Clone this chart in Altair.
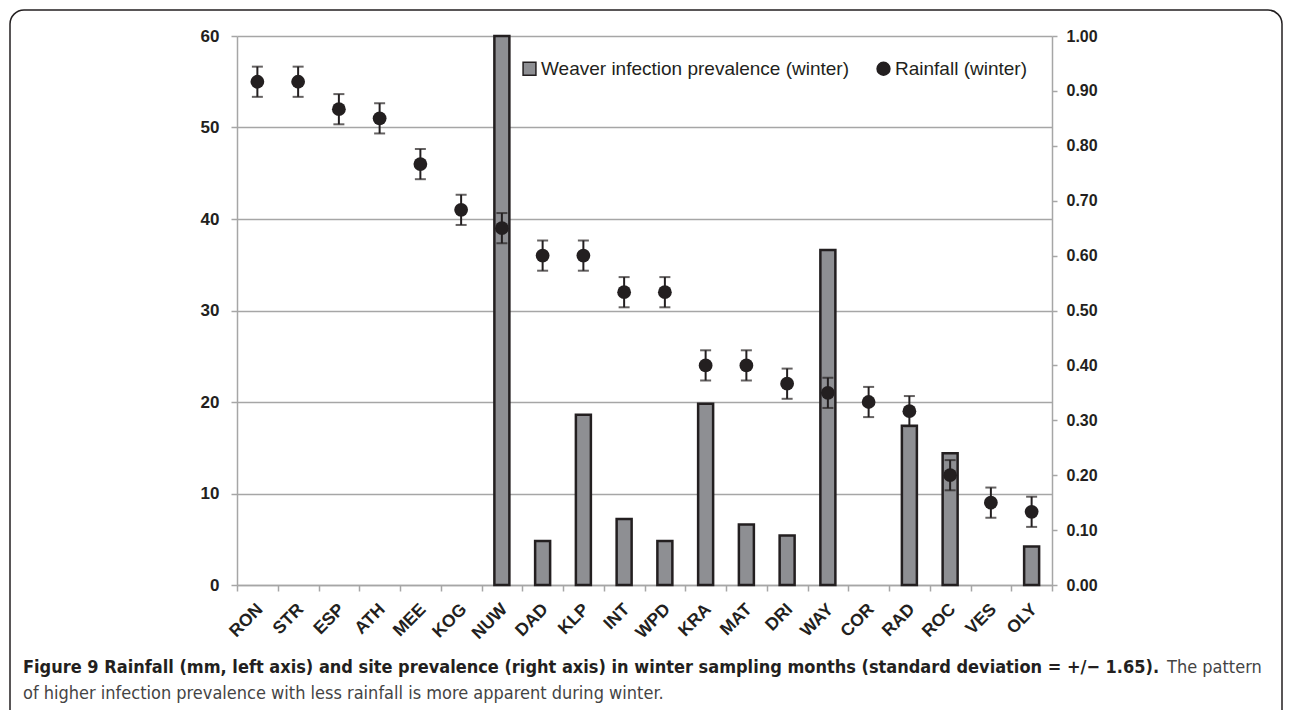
import altair as alt
import pandas as pd

sites = ["RON", "STR", "ESP", "ATH", "MEE", "KOG", "NUW", "DAD", "KLP", "INT",
         "WPD", "KRA", "MAT", "DRI", "WAY", "COR", "RAD", "ROC", "VES", "OLY"]
rainfall = [55, 55, 52, 51, 46, 41, 39, 36, 36, 32, 32, 24, 24, 22, 21, 20, 19, 12, 9, 8]
prevalence = [0, 0, 0, 0, 0, 0, 1.00, 0.08, 0.31, 0.12, 0.08, 0.33, 0.11, 0.09,
              0.61, 0, 0.29, 0.24, 0, 0.07]
rain_sd = 1.65
series = ["Weaver infection prevalence (winter)", "Rainfall (winter)"]
left_ticks = [0, 10, 20, 30, 40, 50, 60]
right_ticks = [0.0, 0.1, 0.2, 0.3, 0.4, 0.5, 0.6, 0.7, 0.8, 0.9, 1.0]
caption_bold = ("Figure 9 Rainfall (mm, left axis) and site prevalence (right axis) in winter "
                "sampling months (standard deviation = +/\u2212 1.65).")
caption_rest1 = "The pattern"
caption_line2 = "of higher infection prevalence with less rainfall is more apparent during winter."

INK = "#231f20"
GRID = "#a6a6a6"
BAR = "#8e8f93"
FONT = "Liberation Sans"
CAPFONT = '"Liberation Sans Narrow", "DejaVu Sans Condensed", "Liberation Sans"'

df = pd.DataFrame({"site": sites, "rainfall": rainfall, "prevalence": prevalence})
df["lo"] = df["rainfall"] - rain_sd
df["hi"] = df["rainfall"] + rain_sd

W, H = 815, 549

x_enc = alt.X(
    "site:N", sort=sites,
    scale=alt.Scale(paddingInner=0, paddingOuter=0),
    axis=alt.Axis(title=None, labelAngle=-45, tickBand="extent", labelFont=FONT,
                  labelFontWeight="bold", labelFontSize=17.5, labelColor=INK,
                  tickColor=GRID, tickSize=6, tickWidth=1.5, domainColor=GRID,
                  domainWidth=1.5, labelPadding=9, labelOffset=-4, grid=False),
)

left_scale = alt.Scale(domain=[0, 60], nice=False, zero=True)
left_axis = alt.Axis(title=None, values=left_ticks, grid=True, gridColor=GRID, gridWidth=1.5,
                     labelFont=FONT, labelFontWeight="bold", labelFontSize=17, labelColor=INK,
                     tickColor=GRID, tickSize=6, tickWidth=1.5, domainColor=GRID,
                     domainWidth=1.5, labelPadding=12)

right_axis = alt.Axis(title=None, orient="right", values=right_ticks, format=".2f", grid=False,
                      labelFont=FONT, labelFontWeight="bold", labelFontSize=16, labelColor=INK,
                      tickColor=GRID, tickSize=5, tickWidth=1.5, domainColor=GRID,
                      domainWidth=1.5, labelPadding=9)

base = alt.Chart(df)

bars = base.transform_filter("datum.prevalence > 0").mark_bar(
    size=15, fill=BAR, stroke=INK, strokeWidth=2.5
).encode(
    x=x_enc,
    y=alt.Y("prevalence:Q", scale=alt.Scale(domain=[0, 1], nice=False), axis=right_axis),
)

rules = base.mark_rule(color=INK, strokeWidth=2).encode(
    x=x_enc, y=alt.Y("lo:Q", scale=left_scale, axis=left_axis), y2="hi:Q"
)
cap_top = base.mark_tick(color=INK, size=11, thickness=2).encode(
    x=x_enc, y=alt.Y("hi:Q", scale=left_scale, axis=left_axis)
)
cap_bot = base.mark_tick(color=INK, size=11, thickness=2).encode(
    x=x_enc, y=alt.Y("lo:Q", scale=left_scale, axis=left_axis)
)
points = base.transform_calculate(series=f'"{series[1]}"').mark_point(
    filled=True, size=190, opacity=1
).encode(
    x=x_enc,
    y=alt.Y("rainfall:Q", scale=left_scale, axis=left_axis),
    color=alt.Color("series:N", scale=alt.Scale(domain=series, range=[BAR, INK]),
                    legend=alt.Legend(title=None, orient="none", legendX=283, legendY=23,
                                      direction="horizontal", labelFont=FONT,
                                      labelFontSize=19, labelColor=INK,
                                      symbolStrokeColor=INK, symbolStrokeWidth=1.5,
                                      symbolSize=165, labelOffset=2, columnPadding=24,
                                      padding=0, labelLimit=400)),
    shape=alt.Shape("series:N", scale=alt.Scale(domain=series, range=["square", "circle"])),
)

left = alt.layer(rules, cap_top, cap_bot, points)

one = pd.DataFrame({"a": [0]})
frame = alt.Chart(one).mark_rect(
    fill=None, stroke=INK, strokeWidth=1.5, cornerRadius=14
).encode(x=alt.value(-227), x2=alt.value(1045), y=alt.value(-26), y2=alt.value(700))

cap1 = alt.Chart(pd.DataFrame({"t": [caption_bold]})).mark_text(
    align="left", baseline="alphabetic", font=CAPFONT, fontSize=18, fontWeight="bold", color=INK
).encode(text="t:N", x=alt.value(-214), y=alt.value(637))
cap2 = alt.Chart(pd.DataFrame({"t": [caption_rest1]})).mark_text(
    align="left", baseline="alphabetic", font=CAPFONT, fontSize=18, color="#444444"
).encode(text="t:N", x=alt.value(930), y=alt.value(637))
cap3 = alt.Chart(pd.DataFrame({"t": [caption_line2]})).mark_text(
    align="left", baseline="alphabetic", font=CAPFONT, fontSize=18, color="#444444"
).encode(text="t:N", x=alt.value(-214), y=alt.value(663))

chart = alt.layer(bars, left, frame, cap1, cap2, cap3).resolve_scale(
    y="independent"
).properties(
    width=W, height=H, padding={"left": 1, "top": 1, "right": 0, "bottom": 0}
).configure_view(stroke=None)

chart.save("out.html", embed_options={"renderer": "svg", "actions": False})
